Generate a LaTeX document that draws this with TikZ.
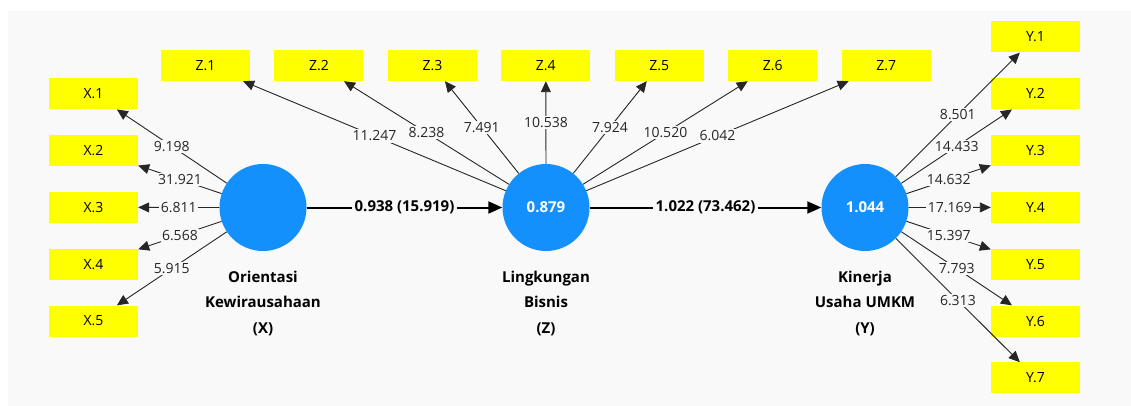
\documentclass[tikz,border=0pt]{standalone}
\usepackage{fontspec}
\setmainfont{Open Sans}
\usetikzlibrary{arrows.meta}
\definecolor{canvas}{RGB}{249,249,249}
\definecolor{latentblue}{RGB}{20,144,252}
\definecolor{itemyellow}{RGB}{255,255,0}
\tikzset{
  indicator/.style={fill=itemyellow, minimum width=89pt, minimum height=31pt, inner sep=0pt,
    font=\fontsize{14}{14}\selectfont},
  latent/.style={circle, fill=latentblue, minimum size=87pt, inner sep=0pt, text=white,
    font=\bfseries\fontsize{15}{15}\selectfont},
  loading/.style={draw=black!85, line width=0.9pt, -{Triangle[length=11pt,width=10pt]}},
  weight/.style={fill=canvas, inner sep=1.5pt, text=black!85, font=\fontsize{14}{14}\selectfont},
  pathline/.style={draw=black, line width=2pt, -{Triangle[length=14pt,width=12pt]}},
  pathweight/.style={fill=canvas, inner sep=2.5pt, font=\bfseries\fontsize{15}{15}\selectfont},
  caption/.style={align=center, font=\bfseries\fontsize{15}{25.5}\selectfont}
}
\begin{document}
\begin{tikzpicture}[x=1pt,y=-1pt]
  \useasboundingbox (0,0) rectangle (1131,406);
  \fill[white] (0,0) rectangle (1131,406);
  \fill[canvas] (8,11) rectangle (1131,406);

  % latent variables
  \node[latent] (X) at (263,207.5) {};
  \node[latent] (Z) at (546,207.5) {0.879};
  \node[latent] (Y) at (865,207.5) {1.044};

  \node[caption] (capX) at (263,303) {Orientasi\\Kewirausahaan\\(X)};
  \node[caption] (capZ) at (546,303) {Lingkungan\\Bisnis\\(Z)};
  \node[caption] (capY) at (865,303) {Kinerja\\Usaha UMKM\\(Y)};

  % indicators of X
  \foreach \i in {1,...,5} {
    \node[indicator] (x\i) at (93.5,{36.9+56.83*\i}) {X.\i};
  }
  % indicators of Z
  \foreach \i in {1,...,7} {
    \node[indicator] (z\i) at ({205.5+113.45*(\i-1)},65.5) {Z.\i};
  }
  % indicators of Y
  \foreach \i in {1,...,7} {
    \node[indicator] (y\i) at (1035.5,{36.9+56.83*(\i-1)}) {Y.\i};
  }

  % outer loadings of X
  \draw[loading] (X) -- node[weight] {9.198} (x1);
  \draw[loading] (X) -- node[weight] {31.921} (x2);
  \draw[loading] (X) -- node[weight] {6.811} (x3);
  \draw[loading] (X) -- node[weight] {6.568} (x4);
  \draw[loading] (X) -- node[weight] {5.915} (x5);

  % outer loadings of Z
  \draw[loading] (Z) -- node[weight] {11.247} (z1);
  \draw[loading] (Z) -- node[weight] {8.238} (z2);
  \draw[loading] (Z) -- node[weight] {7.491} (z3);
  \draw[loading] (Z) -- node[weight] {10.538} (z4);
  \draw[loading] (Z) -- node[weight] {7.924} (z5);
  \draw[loading] (Z) -- node[weight] {10.520} (z6);
  \draw[loading] (Z) -- node[weight] {6.042} (z7);

  % outer loadings of Y
  \draw[loading] (Y) -- node[weight] {8.501} (y1);
  \draw[loading] (Y) -- node[weight] {14.433} (y2);
  \draw[loading] (Y) -- node[weight] {14.632} (y3);
  \draw[loading] (Y) -- node[weight] {17.169} (y4);
  \draw[loading] (Y) -- node[weight] {15.397} (y5);
  \draw[loading] (Y) -- node[weight] {7.793} (y6);
  \draw[loading] (Y) -- node[weight] {6.313} (y7);

  % structural paths
  \draw[pathline] (X) -- node[pathweight] {0.938 (15.919)} (Z);
  \draw[pathline] (Z) -- node[pathweight] {1.022 (73.462)} (Y);
\end{tikzpicture}
\end{document}
